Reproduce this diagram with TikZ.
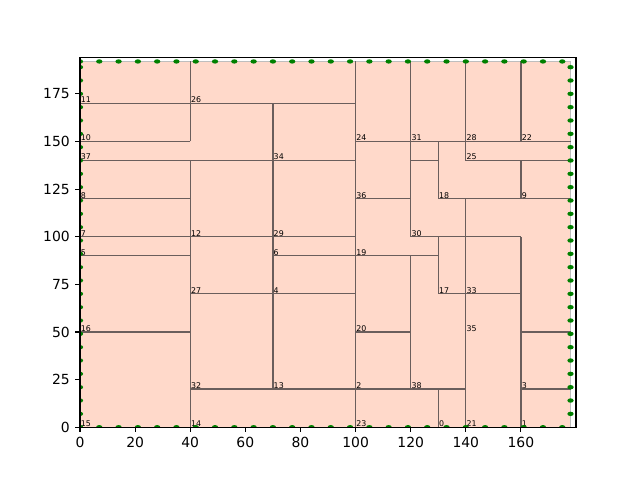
\documentclass[tikz,border=0pt]{standalone}
\usepackage{fontspec}
\setmainfont{DejaVu Sans}
\usepackage{tikz}
\definecolor{packFill}{RGB}{255,217,202}
\definecolor{packEdge}{RGB}{106,94,92}
\definecolor{packBorder}{RGB}{190,190,190}
\definecolor{packGreen}{RGB}{0,128,0}

\begin{document}
\begin{tikzpicture}[x=0.068889cm,y=0.047630cm]
\useasboundingbox (-2cm,-1.32cm) rectangle (14cm,10.68cm);
% sheet
\fill[packFill] (0,0) rectangle (178,192);
\draw[packBorder, line width=0.8pt] (0,0) rectangle (178,192);
% horizontal cuts
\foreach \y/\a/\b in {170/0/100, 150/0/40, 150/100/178, 140/0/100, 140/120/130, 140/140/178,
  120/0/40, 120/100/120, 120/130/178, 100/0/100, 100/120/160, 90/0/40, 90/70/130,
  70/40/100, 70/130/160, 50/0/40, 50/100/120, 50/160/178, 20/40/140, 20/160/178}
  \draw[packEdge, line width=0.9pt] (\a,\y)--(\b,\y);
% vertical cuts
\foreach \x/\a/\b in {40/0/140, 40/150/192, 70/20/170, 100/0/192, 120/20/90, 120/100/192,
  130/0/20, 130/70/100, 130/120/150, 140/0/120, 140/140/192,
  160/0/100, 160/120/140, 160/150/192}
  \draw[packEdge, line width=0.9pt] (\x,\a)--(\x,\b);
% piece numbers
\foreach \x/\y/\t in {0/0/15, 40/0/14, 100/0/23, 130/0/0, 140/0/21, 160/0/1,
  40/20/32, 70/20/13, 100/20/2, 120/20/38, 160/20/3,
  0/50/16, 100/50/20, 140/50/35,
  40/70/27, 70/70/4, 130/70/17, 140/70/33,
  0/90/5, 70/90/6, 100/90/19,
  0/100/7, 40/100/12, 70/100/29, 120/100/30,
  0/120/8, 100/120/36, 130/120/18, 160/120/9,
  0/140/37, 70/140/34, 140/140/25,
  0/150/10, 100/150/24, 120/150/31, 140/150/28, 160/150/22,
  0/170/11, 40/170/26}
  \node[anchor=base west, inner sep=0pt, xshift=0.4pt, yshift=0.4pt, font=\fontsize{5.6}{6}\selectfont] (p\t) at (\x,\y) {\t};
% border points
\begin{scope}
\clip (0,0) rectangle (180,194);
\foreach \k in {0,...,25} {
  \fill[packGreen] (7*\k,0) circle[radius=1.15];
  \fill[packGreen] (7*\k,192) circle[radius=1.15];
}
\foreach \k in {0,...,27} \fill[packGreen] (0,7*\k) circle[radius=1.15];
\foreach \k in {1,...,27} \fill[packGreen] (178,7*\k) circle[radius=1.15];
\end{scope}
% axes
\draw[line width=0.79pt] (0,0) rectangle (180,194);
\foreach \x in {0,20,...,160}
  \draw[line width=0.79pt] (\x,0)--++(0,-0.1215cm)
    node[anchor=north, inner sep=0pt, yshift=-0.1215cm, font=\fontsize{9.9}{12}\selectfont] (tx\x) {\x};
\foreach \y in {0,25,...,175}
  \draw[line width=0.79pt] (0,\y)--++(-0.1215cm,0)
    node[anchor=east, inner sep=0pt, xshift=-0.1215cm, font=\fontsize{9.9}{12}\selectfont] (ty\y) {\y};
\end{tikzpicture}
\end{document}
